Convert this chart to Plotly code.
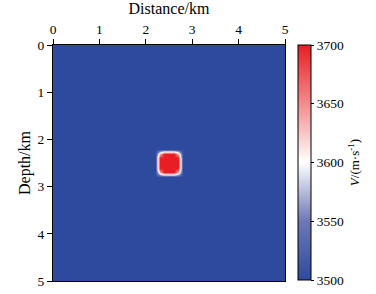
import plotly.graph_objects as go

# Velocity model
background_velocity = 3500
# grid coordinates (km)
distance_km = [round(i * 0.1, 1) for i in range(51)]
depth_km = [round(i * 0.1, 1) for i in range(51)]
# anomaly block: rows (depth) x cols (distance) of velocity, at these coordinates
anomaly_distance = [2.3, 2.4, 2.5, 2.6, 2.7]
anomaly_depth = [2.3, 2.4, 2.5, 2.6, 2.7]
anomaly_values = [
    [3640, 3700, 3700, 3700, 3640],
    [3700, 3700, 3700, 3700, 3700],
    [3700, 3700, 3700, 3700, 3700],
    [3700, 3700, 3700, 3700, 3700],
    [3640, 3700, 3700, 3700, 3640],
]
cbar_ticks = [3500, 3550, 3600, 3650, 3700]
x_ticks = [0, 1, 2, 3, 4, 5]
y_ticks = [0, 1, 2, 3, 4, 5]

z = [[background_velocity for _ in distance_km] for _ in depth_km]
for i, d in enumerate(anomaly_depth):
    for j, x in enumerate(anomaly_distance):
        z[depth_km.index(d)][distance_km.index(x)] = anomaly_values[i][j]

colorscale = [
    [0.0, "rgb(46,74,158)"],
    [0.25, "rgb(110,120,182)"],
    [0.5, "rgb(255,255,255)"],
    [0.75, "rgb(242,140,140)"],
    [1.0, "rgb(232,30,36)"],
]

font = dict(family="Liberation Serif", size=13, color="black")
tick_font = dict(family="Liberation Serif", size=13.5, color="black")

fig = go.Figure(
    go.Heatmap(
        x=distance_km,
        y=depth_km,
        z=z,
        zmin=3500,
        zmax=3700,
        zsmooth="best",
        colorscale=colorscale,
        colorbar=dict(
            x=1.056,
            xanchor="left",
            y=1.0,
            yanchor="top",
            len=235 / 236,
            lenmode="fraction",
            thickness=13,
            outlinecolor="black",
            outlinewidth=1,
            ticks="outside",
            ticklen=3,
            tickcolor="black",
            tickvals=cbar_ticks,
            tickfont=tick_font,
            xpad=0,
            ypad=0,
            title=dict(text="<i>V</i>/(m·s<sup>-1</sup>)", side="right", font=font),
        ),
    )
)

fig.update_layout(
    width=376,
    height=294,
    margin=dict(l=53, r=91, t=45, b=13, autoexpand=False),
    paper_bgcolor="white",
    plot_bgcolor="white",
    font=font,
    xaxis=dict(
        side="top",
        range=[0, 5],
        tickvals=x_ticks,
        ticks="outside",
        ticklen=5,
        tickcolor="black",
        tickfont=tick_font,
        showline=True,
        linecolor="black",
        linewidth=1,
        mirror=True,
        showgrid=False,
        zeroline=False,
        automargin=False,
        title=dict(text="Distance/km", standoff=2),
    ),
    yaxis=dict(
        range=[5, 0],
        tickvals=y_ticks,
        ticks="outside",
        ticklen=5,
        tickcolor="black",
        tickfont=tick_font,
        showline=True,
        linecolor="black",
        linewidth=1,
        mirror=True,
        showgrid=False,
        zeroline=False,
        automargin=False,
        title=dict(text="Depth/km", standoff=2),
    ),
)

fig.write_html(
    "out.html",
    config={"displayModeBar": False},
    post_script="document.body.style.margin='0';document.body.style.padding='0';",
)
